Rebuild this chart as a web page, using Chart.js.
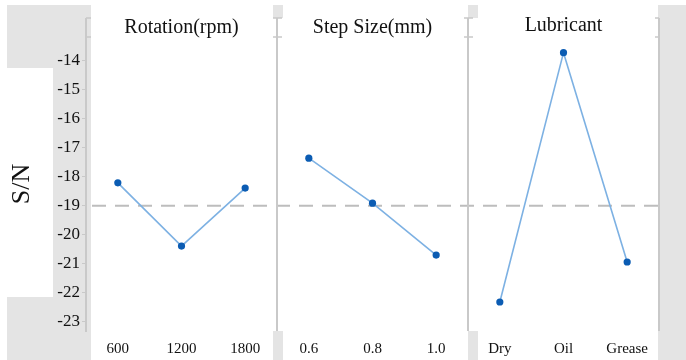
<!DOCTYPE html>
<html><head><meta charset="utf-8">
<script src="https://cdn.jsdelivr.net/npm/chart.js@4.4.1/dist/chart.umd.min.js"></script>
<style>html,body{margin:0;padding:0;background:#fff;}#wrap{width:686px;height:360px;position:relative;}</style>
</head><body><div id="wrap"><canvas id="c" width="686" height="360"></canvas></div>
<script>
const panelTitles = ['Rotation(rpm)', 'Step Size(mm)', 'Lubricant'];
const rotationLevels = ['600', '1200', '1800'];
const stepLevels = ['0.6', '0.8', '1.0'];
const lubricantLevels = ['Dry', 'Oil', 'Grease'];
const rotationSN = [-18.21, -20.39, -18.39];
const stepSN = [-17.36, -18.91, -20.70];
const lubricantSN = [-22.32, -13.72, -20.94];
const meanSN = -19.0;
const yTickValues = [-14, -15, -16, -17, -18, -19, -20, -21, -22, -23];
const yMin = -23.32, yMax = -13.18;

const SERIF = "'Liberation Serif', 'Times New Roman', serif";
const GREY_BG = '#e4e4e4';
const AXIS = '#c9c9c9';

const levelSets = [rotationLevels, stepLevels, lubricantLevels];
const valueSets = [rotationSN, stepSN, lubricantSN];
const allLevels = [].concat(...levelSets);
const tickPositions = [];
levelSets.forEach((lv, p) => lv.forEach((_, i) => tickPositions.push(p * 3 + i + 0.5)));

const datasets = valueSets.map((vals, p) => ({
  data: vals.map((v, i) => ({ x: p * 3 + i + 0.5, y: v })),
  borderColor: '#7db1e3',
  borderWidth: 1.6,
  pointBackgroundColor: '#0b5cb3',
  pointBorderColor: '#0b5cb3',
  pointRadius: 3.6,
  pointBorderWidth: 0,
  tension: 0
}));

const decor = {
  id: 'decor',
  beforeDraw(chart) {
    const ctx = chart.ctx;
    const xs = chart.scales.x;
    const s1 = Math.round(xs.getPixelForValue(3));
    const s2 = Math.round(xs.getPixelForValue(6));
    const r = Math.round(xs.getPixelForValue(9));
    const b = chart.chartArea.bottom;
    ctx.save();
    ctx.fillStyle = '#fff';
    ctx.fillRect(0, 0, chart.width, chart.height);
    ctx.fillStyle = GREY_BG;
    ctx.fillRect(7, 5, 84, 63);
    ctx.fillRect(53, 68, 38, 230);
    ctx.fillRect(7, 297, 84, 63);
    ctx.fillRect(s1 - 4, 5, 10, 13);
    ctx.fillRect(s1 - 4, b, 10, 360 - b);
    ctx.fillRect(s2, 5, 10, 13);
    ctx.fillRect(s2, b, 10, 360 - b);
    ctx.fillRect(r - 1, 5, 686 - r + 1, 355);
    ctx.restore();
  },
  beforeDatasetsDraw(chart) {
    const ctx = chart.ctx;
    const xs = chart.scales.x, ys = chart.scales.y;
    const { left, right, top, bottom } = chart.chartArea;
    ctx.save();
    const ym = ys.getPixelForValue(meanSN);
    ctx.strokeStyle = '#bdbdbd';
    ctx.lineWidth = 2;
    ctx.setLineDash([14, 9]);
    ctx.beginPath();
    ctx.moveTo(left + 6, ym);
    ctx.lineTo(right, ym);
    ctx.stroke();
    ctx.setLineDash([]);
    ctx.strokeStyle = AXIS;
    ctx.lineWidth = 2;
    [3, 6, 9].forEach(v => {
      const x = Math.round(xs.getPixelForValue(v));
      ctx.beginPath();
      ctx.moveTo(x, 18);
      ctx.lineTo(x, bottom);
      ctx.stroke();
    });
    ctx.beginPath();
    ctx.moveTo(left, 18);
    ctx.lineTo(left, top);
    ctx.stroke();
    ctx.lineWidth = 1.5;
    [0, 3, 6, 9].forEach(v => {
      const x = Math.round(xs.getPixelForValue(v));
      [18, top].forEach(yy => {
        ctx.beginPath();
        ctx.moveTo(x - (v === 0 ? 0 : 4), yy);
        ctx.lineTo(x + (v === 9 ? 0 : 5), yy);
        ctx.stroke();
      });
    });
    ctx.restore();
  },
  afterDraw(chart) {
    const ctx = chart.ctx;
    const xs = chart.scales.x;
    ctx.save();
    ctx.fillStyle = '#111';
    ctx.font = '20px ' + SERIF;
    ctx.textAlign = 'center';
    ctx.textBaseline = 'alphabetic';
    panelTitles.forEach((t, p) => {
      const cx = (xs.getPixelForValue(p * 3) + xs.getPixelForValue(p * 3 + 3)) / 2;
      ctx.fillText(t, cx, p === 2 ? 31 : 33);
    });
    ctx.restore();
  }
};

new Chart(document.getElementById('c'), {
  type: 'line',
  data: { datasets },
  plugins: [decor],
  options: {
    responsive: false,
    animation: false,
    layout: { padding: { left: 7, top: 37, right: 27, bottom: 0 } },
    plugins: { legend: { display: false }, tooltip: { enabled: false }, title: { display: false } },
    scales: {
      x: {
        type: 'linear',
        min: 0, max: 9,
        afterBuildTicks: s => { s.ticks = tickPositions.map(v => ({ value: v })); },
        afterFit: s => { s.height = 29; },
        grid: { display: false, drawTicks: false },
        border: { display: false },
        ticks: {
          autoSkip: false, maxRotation: 0, padding: 9,
          color: '#111',
          font: { family: SERIF, size: 15 },
          callback: (v, i) => allLevels[i]
        }
      },
      y: {
        min: yMin, max: yMax,
        afterBuildTicks: s => { s.ticks = yTickValues.map(v => ({ value: v })); },
        afterFit: s => { s.width = 79; },
        grid: { drawOnChartArea: false, drawTicks: true, tickLength: 4, color: AXIS, lineWidth: 1 },
        border: { display: true, color: AXIS, width: 2 },
        ticks: {
          padding: 2, color: '#111',
          font: { family: SERIF, size: 17 },
          callback: v => String(v)
        },
        title: {
          display: true, text: 'S/N', color: '#111',
          font: { family: SERIF, size: 26 },
          padding: { top: 0, bottom: 0 }
        }
      }
    }
  }
});
</script></body></html>
